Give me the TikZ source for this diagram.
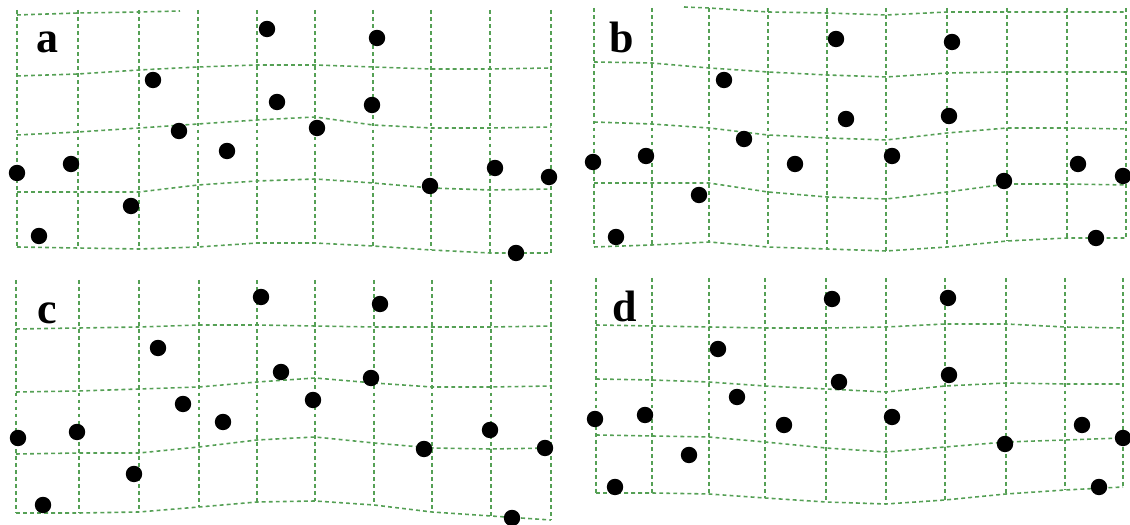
\documentclass[tikz,border=0pt]{standalone}
\usepackage{fontspec}
\setmainfont{Liberation Serif}
\definecolor{grid-green}{HTML}{55A055}
\definecolor{dot-black}{HTML}{000000}

\begin{document}
\begin{tikzpicture}[x=0.01cm, y=-0.01cm,
    gridline/.style={draw=grid-green, line width=0.45pt, dash pattern=on 1.1pt off 0.9pt},
    dot/.style={fill=dot-black},
    every node/.style={font=\fontsize{12.5}{12.5}\selectfont\bfseries, inner sep=0pt, anchor=base}]
  \useasboundingbox (0,0) rectangle (1130,525);

  % mesh a
  \def\colx{{17,78,139,198,257,315,373,431,490,551}}
  \foreach \rowy [count=\j from 0] in {{10,10,10,10,10,10,10,10,10,10},
      {76,74,70,67,65,65,67,69,69,68}, {135,132,128,124,120,117,125,128,128,127},
      {192,192,192,185,181,179,183,188,190,189}, {247,248,249,247,243,243,246,250,253,253}}
    \foreach \yy [count=\i from 0] in \rowy
      \coordinate (a-\i-\j) at ({\colx[\i]}, \yy);
  % mesh b
  \def\colx{{594,652,709,768,827,886,947,1007,1067,1126}}
  \foreach \rowy [count=\j from 0] in {{8,8,8,8,8,8,8,8,8,8},
      {62,63,68,72,75,77,73,72,72,72}, {122,124,128,135,138,140,133,128,128,129},
      {183,183,183,192,197,199,192,184,184,185}, {247,245,242,247,249,251,247,241,238,238}}
    \foreach \yy [count=\i from 0] in \rowy
      \coordinate (b-\i-\j) at ({\colx[\i]}, \yy);
  % mesh c
  \def\colx{{16,79,139,199,257,315,374,432,491,551}}
  \foreach \rowy [count=\j from 0] in {{280,280,280,280,280,280,280,280,280,280},
      {329,328,327,325,325,326,327,327,327,326}, {392,391,389,387,382,378,383,387,387,386},
      {454,453,453,447,440,437,443,448,449,448}, {513,513,512,507,502,501,505,512,516,520}}
    \foreach \yy [count=\i from 0] in \rowy
      \coordinate (c-\i-\j) at ({\colx[\i]}, \yy);
  % mesh d
  \def\colx{{596,652,709,765,826,886,945,1006,1065,1123}}
  \foreach \rowy [count=\j from 0] in {{278,278,278,278,278,278,278,278,278,278},
      {325,326,327,328,328,327,324,324,327,328}, {379,380,382,386,389,392,386,383,384,384},
      {435,436,437,442,448,452,447,442,440,438}, {493,493,494,498,502,504,500,494,490,487}}
    \foreach \yy [count=\i from 0] in \rowy
      \coordinate (d-\i-\j) at ({\colx[\i]}, \yy);

  \foreach \p in {a,b,c,d} {
    \foreach \j in {1,...,4}
      \draw[gridline] (\p-0-\j) \foreach \i in {1,...,9} {-- (\p-\i-\j)};
    \foreach \i in {0,...,9}
      \draw[gridline] (\p-\i-0) \foreach \j in {1,...,4} {-- (\p-\i-\j)};
  }
  % partial top lines
  \draw[gridline] (17,15) -- (78,13) -- (139,12) -- (180,11);
  \draw[gridline] (684,7) -- (709,8) -- (768,12) -- (827,13) -- (886,15)
    -- (947,12) -- (1007,12) -- (1067,12) -- (1126,12);

  % points
  \foreach \px/\py in {267/29, 377/38, 153/80, 277/102, 372/105, 179/131, 317/128,
      227/151, 17/173, 71/164, 430/186, 495/168, 549/177, 131/206, 39/236, 516/253,
      836/39, 952/42, 724/80, 846/119, 949/116, 744/139, 892/156, 795/164, 593/162,
      646/156, 1004/181, 1078/164, 1123/176, 699/195, 616/237, 1096/238,
      261/297, 380/304, 158/348, 281/372, 371/378, 183/404, 313/400, 223/422,
      18/438, 77/432, 424/449, 490/430, 545/448, 134/474, 43/505, 512/518,
      832/299, 948/298, 718/349, 839/382, 949/375, 737/397, 892/417, 784/425,
      595/419, 645/415, 1005/444, 1082/425, 1123/438, 689/455, 615/487, 1099/487}
    \fill[dot] (\px,\py) circle[radius=0.082cm];

  \node (la) at (47,53) {a};
  \node (lb) at (622,53) {b};
  \node (lc) at (47,324) {c};
  \node (ld) at (625,322) {d};
\end{tikzpicture}
\end{document}
